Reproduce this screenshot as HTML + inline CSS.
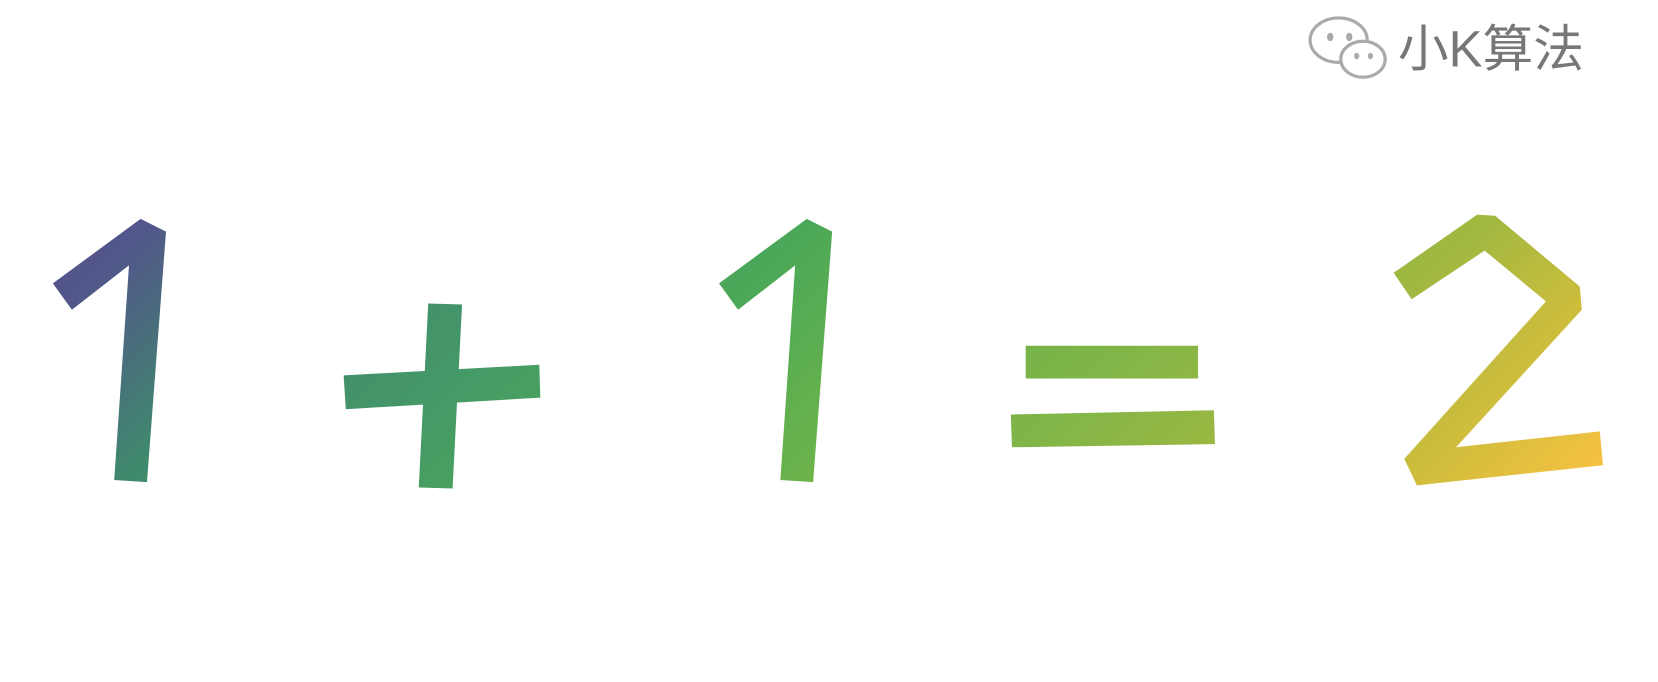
<!DOCTYPE html>
<html><head><meta charset="utf-8">
<style>
html,body{margin:0;padding:0;background:#fff;}
body{width:1658px;height:682px;overflow:hidden;position:relative;}
svg{position:absolute;left:0;top:0;}
</style></head>
<body>
<svg width="1658" height="682" viewBox="0 0 1568 645" preserveAspectRatio="none" role="img" aria-label="1 + 1 = 2">
<title>1 + 1 = 2</title>
<defs>
<linearGradient id="g" gradientUnits="userSpaceOnUse" x1="40" y1="190" x2="903" y2="1053">
<stop offset="0" stop-color="#56508e"/>
<stop offset="0.07" stop-color="#52568a"/>
<stop offset="0.2" stop-color="#3f8a6c"/>
<stop offset="0.32" stop-color="#459868"/>
<stop offset="0.43" stop-color="#4aa858"/>
<stop offset="0.57" stop-color="#6cb34a"/>
<stop offset="0.67" stop-color="#80b548"/>
<stop offset="0.8" stop-color="#a0b840"/>
<stop offset="0.9" stop-color="#cdbd3c"/>
<stop offset="1" stop-color="#f6c141"/>
</linearGradient>
</defs>
<g fill="url(#g)">
<polygon points="50,268 133,207 157,219 139,456 108,454 122,251 68,293"/>
<g>
<polygon points="405,287 437,288 428,462 396,461"/>
<polygon points="325,355 510,345 511,376 327,387"/>
</g>
<polygon points="680,268 763,207 787,219 769,456 738,454 752,251 698,293"/>
<g>
<polygon points="970,327 1133,327 1133,358 970,358"/>
<polygon points="956,392 1148,388 1149,420 957,423"/>
</g>
<polygon points="1318,258 1397,203 1414,204 1494,271 1496,293 1377,423 1513,408 1516,440 1340,459 1328,434 1462,285 1404,237 1335,283"/>
</g>
<g fill="#fff" stroke="#aaa" stroke-width="3">
<ellipse cx="1266" cy="38" rx="27" ry="21"/>
<ellipse cx="1289" cy="56" rx="21" ry="17"/>
<g fill="#aaa" stroke="none">
<ellipse cx="1258" cy="35" rx="3" ry="4"/>
<ellipse cx="1276" cy="35" rx="3" ry="4"/>
<ellipse cx="1283" cy="53" rx="2.5" ry="3"/>
<ellipse cx="1296" cy="53" rx="2.5" ry="3"/>
</g>
</g>
<text x="1322" y="63" font-family="'Liberation Sans','Noto Sans CJK SC',sans-serif" font-size="48" fill="#777">小K算法</text>
</svg>
</body></html>
